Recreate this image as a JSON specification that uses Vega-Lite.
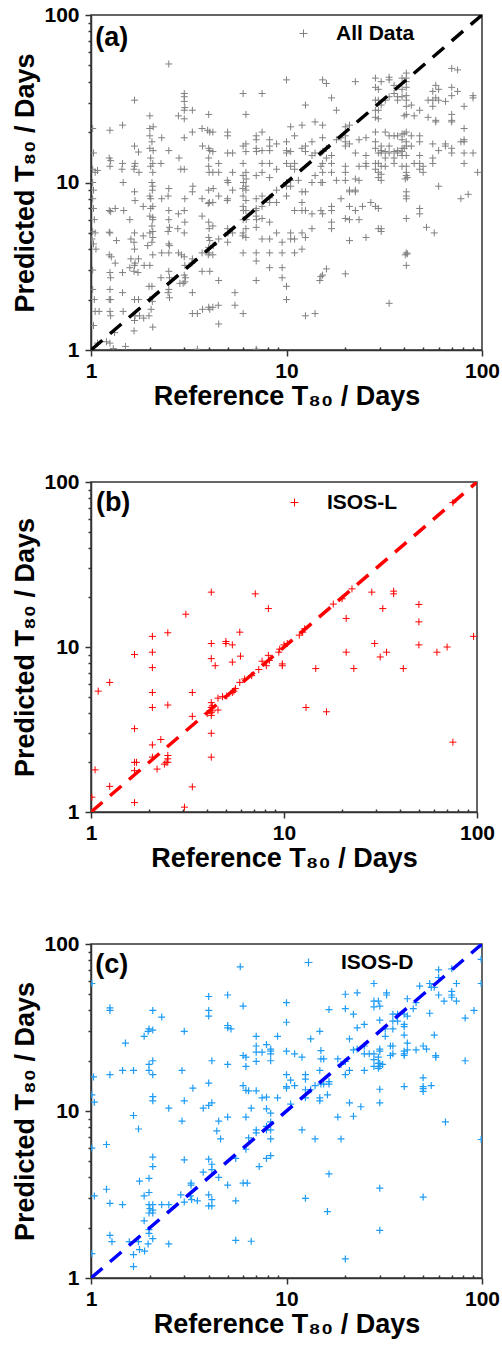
{
  "$schema": "https://vega.github.io/schema/vega-lite/v6.json",
  "background": "white",
  "padding": {"left": 11, "top": 3, "right": 5, "bottom": 5},
  "spacing": 60,
  "config": {
    "font": "Liberation Sans",
    "view": {"stroke": "#333333", "strokeWidth": 1.5},
    "axis": {
      "grid": false,
      "labelFont": "Liberation Sans",
      "labelFontSize": 21,
      "labelFontWeight": "bold",
      "labelColor": "black",
      "labelOverlap": false,
      "labelFlush": false,
      "titleFont": "Liberation Sans",
      "titleFontSize": 27,
      "titleFontWeight": "bold",
      "titleColor": "black",
      "domainColor": "#333333",
      "domainWidth": 1.5,
      "tickColor": "#333333",
      "tickWidth": 1.5
    },
    "legend": {"labelFont": "Liberation Sans"}
  },
  "resolve": {"scale": {"color": "independent"}, "legend": {"color": "independent"}},
  "datasets": {
    "diag": [{"x": 1, "y": 1}, {"x": 100, "y": 100}],
    "a": [
      {"x":1.02,"y":21},{"x":1.03,"y":15},{"x":1.05,"y":11.5},{"x":1.02,"y":10},{"x":1.03,"y":9},{"x":1.02,"y":8},{"x":1.03,"y":7},{"x":1.04,"y":6},{"x":1.05,"y":5},{"x":1.02,"y":5.1},{"x":1.03,"y":4.3},{"x":1.06,"y":4},{"x":1.02,"y":3},{"x":1.04,"y":2},{"x":1.05,"y":1.7},{"x":1.1,"y":1.7},{"x":1.03,"y":1.4},{"x":1.08,"y":1.1},{"x":1.02,"y":12},{"x":1.08,"y":11.8},{"x":1.01,"y":4.6},{"x":1.02,"y":2.3},
      {"x":1.25,"y":20.5},{"x":1.24,"y":14},{"x":1.26,"y":13.5},{"x":1.25,"y":12.5},{"x":1.24,"y":6.8},{"x":1.26,"y":6.7},{"x":1.25,"y":5},{"x":1.24,"y":5.05},{"x":1.24,"y":3.7},{"x":1.27,"y":3.6},{"x":1.25,"y":2.9},{"x":1.26,"y":2.7},{"x":1.25,"y":2.3},{"x":1.24,"y":2},{"x":1.26,"y":2},{"x":1.25,"y":1.7},{"x":1.26,"y":1.6},{"x":1.25,"y":1.1},{"x":1.3,"y":1.02},{"x":1.2,"y":1.12},
      {"x":1.33,"y":7},{"x":1.35,"y":4.5},{"x":1.33,"y":3.3},{"x":1.32,"y":1.27},
      {"x":1.45,"y":22},{"x":1.45,"y":13},{"x":1.44,"y":12},{"x":1.46,"y":10},{"x":1.47,"y":6.8},{"x":1.45,"y":2.9},{"x":1.45,"y":2.2},{"x":1.46,"y":1.7},{"x":1.5,"y":1.05},
      {"x":1.58,"y":6},{"x":1.6,"y":4.6},{"x":1.6,"y":3.5},{"x":1.58,"y":3.1},
      {"x":1.67,"y":31},{"x":1.67,"y":16.5},{"x":1.68,"y":13},{"x":1.67,"y":12.5},{"x":1.66,"y":12},{"x":1.67,"y":8.8},{"x":1.68,"y":7.8},{"x":1.67,"y":5},{"x":1.66,"y":4.4},{"x":1.67,"y":4},{"x":1.68,"y":3.3},{"x":1.67,"y":3.2},{"x":1.66,"y":2.95},{"x":1.67,"y":2},{"x":1.68,"y":1.6},{"x":1.67,"y":1.5},{"x":1.66,"y":1.3},
      {"x":1.75,"y":15.2},{"x":1.76,"y":11.5},{"x":1.75,"y":3.5},{"x":1.74,"y":2.9},{"x":1.75,"y":2},{"x":1.77,"y":1.6},
      {"x":1.85,"y":7.2},{"x":1.85,"y":4.8},{"x":1.87,"y":3.2},{"x":1.86,"y":1.55},
      {"x":2,"y":25},{"x":2,"y":21},{"x":2.08,"y":21.5},{"x":2,"y":19},{"x":2.05,"y":17.5},{"x":2,"y":16},{"x":2.08,"y":15.5},{"x":2.02,"y":14},{"x":2.07,"y":13},{"x":2.02,"y":12.5},{"x":2.07,"y":11.5},{"x":2.05,"y":10},{"x":2.07,"y":9.5},{"x":2.06,"y":9},{"x":2,"y":8.3},{"x":2.02,"y":8},{"x":2.07,"y":7.2},{"x":2,"y":6.3},{"x":2.07,"y":6.2},{"x":2.05,"y":5.5},{"x":2,"y":5},{"x":2.07,"y":4.7},{"x":2.05,"y":4.4},{"x":2.07,"y":3.7},{"x":2,"y":3.2},{"x":2.05,"y":2.4},{"x":1.98,"y":2.4},{"x":2,"y":2},{"x":2.06,"y":1.95},{"x":2.03,"y":1.75},{"x":1.98,"y":1.6},{"x":2.07,"y":1.37},{"x":2.07,"y":6},{"x":2.02,"y":7},{"x":2.07,"y":5.1},{"x":1.95,"y":4.2},
      {"x":2.3,"y":18.5},{"x":2.28,"y":13},{"x":2.3,"y":8},{"x":2.3,"y":3.8},{"x":2.28,"y":2.7},
      {"x":2.5,"y":51},{"x":2.5,"y":15.5},{"x":2.5,"y":9.2},{"x":2.48,"y":8.3},{"x":2.5,"y":6.8},{"x":2.5,"y":6},{"x":2.52,"y":5.4},{"x":2.48,"y":5.1},{"x":2.5,"y":4.3},{"x":2.52,"y":4.2},{"x":2.5,"y":3.8},{"x":2.5,"y":2.95},{"x":2.52,"y":2.7},{"x":2.5,"y":2.3},{"x":2.48,"y":2.2},{"x":2.52,"y":2.05},
      {"x":2.8,"y":25},{"x":2.82,"y":14},{"x":2.8,"y":6.5},{"x":2.78,"y":5.3},{"x":2.8,"y":3.8},{"x":2.85,"y":2.5},
      {"x":3,"y":34},{"x":3,"y":32.5},{"x":3,"y":30.5},{"x":3.02,"y":28},{"x":3,"y":27},{"x":3,"y":24},{"x":3,"y":18.5},{"x":3,"y":12},{"x":3.02,"y":8},{"x":3,"y":6.8},{"x":3.02,"y":5.8},{"x":3,"y":5},{"x":3,"y":3.6},{"x":3.02,"y":3.2},{"x":3,"y":2.8},{"x":3.04,"y":2.7},{"x":2.96,"y":2.5},{"x":3.02,"y":2.55},{"x":2.88,"y":12},{"x":2.9,"y":3.7},
      {"x":3.3,"y":27},{"x":3.3,"y":20},{"x":3.32,"y":9.5},{"x":3.3,"y":8.8},{"x":3.3,"y":3.5},{"x":3.28,"y":3.3},{"x":3.3,"y":2.2},{"x":3.3,"y":1.65},
      {"x":3.5,"y":1.01},{"x":3.5,"y":1.65},
      {"x":3.7,"y":21},{"x":3.72,"y":16.5},{"x":3.7,"y":8},{"x":3.7,"y":6.3},{"x":3.7,"y":3.8},{"x":3.7,"y":2.95},{"x":3.72,"y":1.75},
      {"x":4,"y":25.5},{"x":3.95,"y":20.5},{"x":4.05,"y":20},{"x":4,"y":16},{"x":4.05,"y":15.5},{"x":4,"y":14},{"x":4,"y":12.5},{"x":4.02,"y":11.5},{"x":4,"y":9},{"x":4.03,"y":7.6},{"x":3.98,"y":7.5},{"x":4,"y":5.8},{"x":4.02,"y":5.3},{"x":4,"y":4.7},{"x":4.05,"y":4.5},{"x":4,"y":4.1},{"x":4.02,"y":3.8},{"x":3.98,"y":3.7},{"x":4.05,"y":2.95},{"x":4,"y":1.8},{"x":4.05,"y":1.75},
      {"x":4.2,"y":20},{"x":4.2,"y":15.3},{"x":4.2,"y":11.5},{"x":4.22,"y":9.2},{"x":4.2,"y":7.6},{"x":4.2,"y":5.5},{"x":4.22,"y":4.2},{"x":4.2,"y":3.7},{"x":4.2,"y":1.8},
      {"x":4.5,"y":13},{"x":4.5,"y":11.5},{"x":4.5,"y":8.3},{"x":4.5,"y":4.6},{"x":4.5,"y":2.6},{"x":4.48,"y":1.85},{"x":4.5,"y":1.43},
      {"x":5,"y":20},{"x":5,"y":19},{"x":5,"y":15},{"x":4.98,"y":10.3},{"x":5.02,"y":10},{"x":5,"y":8},{"x":4.98,"y":7.8},{"x":5,"y":5.3},{"x":5.02,"y":5},{"x":5,"y":4.4},
      {"x":5.3,"y":15},{"x":5.3,"y":11.5},{"x":5.3,"y":9},{"x":5.3,"y":5},{"x":5.45,"y":2.2},{"x":5.45,"y":1.85},
      {"x":6,"y":34},{"x":6,"y":16.5},{"x":6,"y":13},{"x":6,"y":11},{"x":6.02,"y":10},{"x":5.98,"y":9.2},{"x":6,"y":8.3},{"x":6,"y":7.2},{"x":6.02,"y":6.8},{"x":6,"y":6},{"x":6,"y":5},{"x":5.98,"y":4.8},{"x":6,"y":3.8},{"x":6,"y":1.65},
      {"x":6.2,"y":25.5},{"x":6.2,"y":17},{"x":6.2,"y":15.3},{"x":6.2,"y":11.5},{"x":6.22,"y":10.5},{"x":6.2,"y":9.5},{"x":6.2,"y":9},{"x":6.2,"y":7.8},{"x":6.2,"y":6.8},{"x":6.22,"y":6},{"x":6.2,"y":5.3},{"x":6.2,"y":4.7},
      {"x":7,"y":19},{"x":7,"y":18},{"x":7,"y":16},{"x":7.02,"y":15.3},{"x":7,"y":11},{"x":7,"y":8},{"x":7,"y":7},{"x":6.98,"y":6.8},{"x":7,"y":6.3},{"x":7.02,"y":6},{"x":7,"y":5.4},{"x":7,"y":3.8},{"x":7,"y":3.4},{"x":7,"y":2.6},{"x":7,"y":1.01},
      {"x":7.5,"y":34},{"x":7.5,"y":20},{"x":7.5,"y":15.5},{"x":7.5,"y":13},{"x":7.5,"y":11.5},{"x":7.5,"y":8.3},{"x":7.5,"y":7.2},{"x":7.5,"y":6.1},{"x":7.5,"y":4.6},
      {"x":8.2,"y":18},{"x":8.2,"y":16.5},{"x":8.2,"y":15.5},{"x":8.2,"y":13},{"x":8.2,"y":10.7},{"x":8.2,"y":8.1},{"x":8.2,"y":7.6},{"x":8.2,"y":5.8},{"x":8.2,"y":4.6},{"x":8.2,"y":3.8},{"x":8.2,"y":3.1},
      {"x":8.9,"y":17},{"x":8.9,"y":12},{"x":8.9,"y":9},{"x":8.9,"y":7.6},{"x":8.9,"y":5},
      {"x":9.5,"y":4.4},{"x":9.5,"y":3.8},{"x":9.5,"y":3.1},{"x":9.5,"y":2.7},
      {"x":10,"y":41},{"x":10,"y":17.5},{"x":10,"y":15.5},{"x":10,"y":15},{"x":10,"y":13},{"x":10,"y":10},{"x":10,"y":9.5},{"x":10,"y":8.3},{"x":10,"y":2.4},{"x":10,"y":2},
      {"x":10.5,"y":21.5},{"x":10.5,"y":15.3},{"x":10.5,"y":12.5},{"x":10.5,"y":10.3},{"x":10.5,"y":9.5},{"x":10.5,"y":5},{"x":10.5,"y":4.6},
      {"x":11,"y":19},{"x":11,"y":13},{"x":11,"y":12},{"x":11,"y":6.8},{"x":11,"y":4.6},{"x":11,"y":3.8},{"x":11.5,"y":10.3},
      {"x":12,"y":22},{"x":12,"y":16},{"x":12,"y":8.8},{"x":12,"y":7.6},{"x":12,"y":6.8},{"x":12,"y":5},{"x":12,"y":4},
      {"x":12.5,"y":29},{"x":12.5,"y":16.5},{"x":12.5,"y":15.3},{"x":12.5,"y":8.8},{"x":12.5,"y":6.8},{"x":12.5,"y":4.7},{"x":12.5,"y":1.6},
      {"x":13.5,"y":17.5},{"x":13.5,"y":14.5},{"x":13.5,"y":10},{"x":13.5,"y":6.5},{"x":13.5,"y":5.3},
      {"x":14,"y":23},{"x":14,"y":15},{"x":14,"y":11},{"x":14,"y":1.65},
      {"x":15,"y":15},{"x":15,"y":12.5},{"x":15,"y":10},{"x":15,"y":6.8},{"x":15,"y":2.75},{"x":14.8,"y":2.6},
      {"x":15.3,"y":41},{"x":15.3,"y":22},{"x":15.3,"y":18.5},{"x":15.3,"y":15.3},{"x":15.3,"y":13},{"x":15.3,"y":11.5},{"x":15.3,"y":10},{"x":15.3,"y":6.5},{"x":15.3,"y":2.8},
      {"x":16,"y":39},{"x":16,"y":16},{"x":16,"y":14},{"x":16,"y":3.05},
      {"x":17,"y":32},{"x":17,"y":14.5},{"x":17,"y":13},{"x":17,"y":11.5},{"x":17,"y":7.2},{"x":17,"y":6.8},{"x":17,"y":5.8},{"x":17,"y":5.3},
      {"x":18,"y":27},{"x":18,"y":18},{"x":18,"y":10.3},{"x":19,"y":18.5},{"x":19,"y":8},
      {"x":20,"y":21.5},{"x":20,"y":19},{"x":20,"y":17.5},{"x":20,"y":16.5},{"x":20,"y":12.5},{"x":20,"y":11.5},{"x":20,"y":10.3},{"x":20,"y":6.1},{"x":20,"y":2.85},
      {"x":21,"y":22},{"x":21,"y":17},{"x":21,"y":9},{"x":21,"y":8.8},{"x":21,"y":7.2},{"x":21,"y":6},{"x":21,"y":4.5},
      {"x":22.5,"y":40},{"x":22.5,"y":15},{"x":22.5,"y":10.5},{"x":22.5,"y":9},{"x":22.5,"y":8.8},{"x":22.5,"y":6.8},
      {"x":23.5,"y":18},{"x":23.5,"y":12.5},{"x":23.5,"y":10.3},{"x":23.5,"y":6},{"x":24.5,"y":7.2},
      {"x":25.5,"y":18.5},{"x":25.5,"y":14.5},{"x":25.5,"y":13},{"x":25.5,"y":12.5},{"x":25.5,"y":4.7},{"x":27,"y":7.6},
      {"x":28.5,"y":42},{"x":28.5,"y":37},{"x":28.5,"y":31},{"x":28.5,"y":27},{"x":28.5,"y":24.5},{"x":28.5,"y":20},{"x":28.5,"y":17.5},{"x":28.5,"y":16},{"x":28.5,"y":13},{"x":28.5,"y":12},{"x":28.5,"y":7.2},
      {"x":29.5,"y":36},{"x":29.5,"y":31},{"x":29.5,"y":27},{"x":29.5,"y":24},{"x":29.5,"y":15},{"x":29.5,"y":13},{"x":29.5,"y":11.5},{"x":29.5,"y":10.7},{"x":29.5,"y":7},{"x":29.5,"y":5.3},
      {"x":30.5,"y":40},{"x":30.5,"y":29},{"x":30.5,"y":16.5},{"x":30.5,"y":15.5},{"x":30.5,"y":15},{"x":30.5,"y":12.5},{"x":30.5,"y":11.2},{"x":30.5,"y":10.3},{"x":30.5,"y":5.3},{"x":30.5,"y":5.1},
      {"x":32,"y":31},{"x":32,"y":20},{"x":32,"y":15.3},{"x":32,"y":14},{"x":32,"y":12.5},
      {"x":33.5,"y":42.5},{"x":33.5,"y":41},{"x":33.5,"y":32.5},{"x":33.5,"y":19},{"x":33.5,"y":16.5},{"x":33.5,"y":15},{"x":33.5,"y":1.9},
      {"x":35.5,"y":38},{"x":35.5,"y":34},{"x":35.5,"y":19},{"x":35.5,"y":15.3},{"x":35.5,"y":14},{"x":35.5,"y":13},
      {"x":37,"y":32.5},{"x":37,"y":31},{"x":37,"y":19},{"x":37,"y":15.5},{"x":37,"y":15},
      {"x":39,"y":42},{"x":39,"y":36},{"x":39,"y":32.5},{"x":39,"y":19.5},{"x":39,"y":18},{"x":39,"y":16},{"x":39,"y":15.3},{"x":39,"y":14.5},{"x":39,"y":12.5},
      {"x":41,"y":45},{"x":41,"y":42},{"x":41,"y":40},{"x":41,"y":37},{"x":41,"y":33},{"x":41,"y":31},{"x":41,"y":28.5},{"x":41,"y":25.5},{"x":40,"y":25},{"x":41,"y":20},{"x":40,"y":19.5},{"x":41,"y":17.5},{"x":41,"y":16.5},{"x":40,"y":16},{"x":41,"y":14.5},{"x":41,"y":12.5},{"x":41,"y":11.5},{"x":41,"y":11},{"x":41.5,"y":10.7},{"x":40.5,"y":10.5},{"x":41,"y":8.8},{"x":41,"y":8.3},{"x":41,"y":8},{"x":41,"y":6.1},{"x":41,"y":3.8},{"x":41.5,"y":3.75},{"x":40.5,"y":3.7},{"x":41,"y":3.2},
      {"x":43.5,"y":29},{"x":43.5,"y":19},{"x":43.5,"y":16.5},{"x":45,"y":25},{"x":45,"y":13},
      {"x":48,"y":27},{"x":48,"y":19},{"x":48,"y":17.5},{"x":48,"y":14.5},{"x":48,"y":13},{"x":48,"y":12},{"x":48,"y":7},{"x":48,"y":6.5},
      {"x":50,"y":12.5},{"x":50,"y":11.5},{"x":52,"y":5.4},{"x":53,"y":31},{"x":53,"y":24.5},
      {"x":56,"y":35},{"x":56,"y":31},{"x":56,"y":28.5},{"x":56,"y":17},{"x":56,"y":14},{"x":56,"y":13},
      {"x":58,"y":38},{"x":58,"y":32},{"x":58,"y":23.5},{"x":58,"y":23},{"x":57,"y":5},
      {"x":60,"y":36},{"x":60,"y":31},{"x":60,"y":15.5},{"x":60,"y":9.5},
      {"x":65,"y":30.5},{"x":65,"y":17},{"x":65,"y":16.5},
      {"x":70,"y":48},{"x":70,"y":37},{"x":70,"y":33},{"x":70,"y":25.5},{"x":70,"y":23.5},{"x":70,"y":23},{"x":70,"y":16},{"x":70,"y":15},
      {"x":75,"y":47},{"x":75,"y":35},{"x":78,"y":17.5},{"x":78,"y":8},
      {"x":81,"y":28.5},{"x":81,"y":21},{"x":81,"y":18},{"x":81,"y":17.5},{"x":81,"y":15},{"x":81,"y":13},
      {"x":85,"y":8.5},{"x":90,"y":33},{"x":90,"y":32},{"x":90,"y":15},{"x":95,"y":11.5}
    ],
    "b": [
      {"x":1.01,"y":1.23},{"x":1.05,"y":1.8},{"x":1.09,"y":5.4},{"x":1.25,"y":6.1},{"x":1.25,"y":1.43},{"x":1.68,"y":9},{"x":1.68,"y":3.2},{"x":1.68,"y":2.0},{"x":1.68,"y":1.78},{"x":1.68,"y":1.14},{"x":1.72,"y":2.0},
      {"x":2.08,"y":11.6},{"x":2.08,"y":9.3},{"x":2.08,"y":7.5},{"x":2.08,"y":5.3},{"x":2.08,"y":4.3},{"x":2.08,"y":2.55},{"x":2.08,"y":2.15},{"x":2.2,"y":1.82},{"x":2.3,"y":2.75},{"x":2.4,"y":1.95},{"x":2.45,"y":2.0},
      {"x":2.5,"y":12.2},{"x":2.5,"y":4.45},{"x":2.5,"y":2.2},{"x":2.5,"y":2.1},{"x":2.5,"y":2.0},{"x":3.1,"y":15.8},{"x":3.05,"y":1.07},{"x":3.35,"y":5.3},{"x":3.35,"y":3.8},{"x":3.35,"y":1.42},
      {"x":4.2,"y":21.5},{"x":4.2,"y":10.5},{"x":4.2,"y":8.5},{"x":4.2,"y":4.6},{"x":4.2,"y":4.3},{"x":4.2,"y":4.0},{"x":4.2,"y":3.85},{"x":4.2,"y":3.0},{"x":4.2,"y":2.15},{"x":4.25,"y":4.4},{"x":4.25,"y":4.1},{"x":4.0,"y":3.95},{"x":4.4,"y":7.7},{"x":4.55,"y":4.9},{"x":4.55,"y":4.15},{"x":4.8,"y":5.0},
      {"x":5.0,"y":10.8},{"x":5.0,"y":10.5},{"x":5.05,"y":5.05},{"x":5.4,"y":10.3},{"x":5.4,"y":8.1},{"x":5.4,"y":5.3},{"x":5.5,"y":5.4},{"x":5.6,"y":5.6},{"x":5.9,"y":12.3},{"x":5.95,"y":8.8},{"x":5.9,"y":6.1},{"x":6.25,"y":6.4},{"x":6.8,"y":6.7},{"x":7.1,"y":21},{"x":7.4,"y":7.3},{"x":7.7,"y":8.2},{"x":8.1,"y":7.7},{"x":8.3,"y":17.1},{"x":8.3,"y":8.9},{"x":8.4,"y":8.3},
      {"x":9.4,"y":9.3},{"x":9.5,"y":9.7},{"x":9.8,"y":7.9},{"x":9.8,"y":7.7},{"x":10,"y":10.3},{"x":10.4,"y":10.5},{"x":12,"y":11.8},{"x":12.5,"y":12.3},{"x":12.8,"y":12.9},{"x":13,"y":4.3},{"x":14.6,"y":7.4},{"x":16.6,"y":4.05},{"x":18,"y":18.2},{"x":20,"y":19.6},
      {"x":21,"y":14.9},{"x":21,"y":9.3},{"x":22.5,"y":22.5},{"x":23,"y":7.4},{"x":28.5,"y":21.5},{"x":29.5,"y":10.5},{"x":32.5,"y":17.1},{"x":31.5,"y":8.7},{"x":34,"y":9.3},{"x":37,"y":21.8},{"x":37,"y":21},{"x":41.5,"y":7.4},
      {"x":50,"y":18.1},{"x":50,"y":14.2},{"x":50,"y":10.3},{"x":62,"y":9.3},{"x":70,"y":10},{"x":75,"y":75},{"x":75,"y":2.65},{"x":96,"y":11.6}
    ],
    "c": [
      {"x":1.01,"y":58},{"x":1.03,"y":16},{"x":1.01,"y":12.5},{"x":1.04,"y":11.3},{"x":1.01,"y":6},{"x":1.04,"y":3.1},{"x":1.01,"y":1.4},{"x":1.2,"y":6.3},{"x":1.2,"y":3.4},{"x":1.25,"y":41.5},{"x":1.25,"y":40},{"x":1.25,"y":16.5},{"x":1.25,"y":2.8},{"x":1.25,"y":1.8},{"x":1.28,"y":1.65},
      {"x":1.45,"y":17.5},{"x":1.45,"y":2.75},{"x":1.5,"y":25.5},{"x":1.57,"y":1.65},{"x":1.65,"y":17.5},{"x":1.65,"y":9.4},{"x":1.65,"y":1.38},{"x":1.65,"y":1.17},{"x":1.75,"y":7.8},{"x":1.77,"y":3.8},{"x":1.75,"y":1.65},{"x":1.77,"y":1.48},
      {"x":1.87,"y":28},{"x":1.87,"y":3.1},{"x":1.87,"y":2.2},{"x":1.88,"y":1.45},{"x":1.98,"y":31},{"x":1.96,"y":30},{"x":1.98,"y":19},{"x":1.98,"y":17.5},{"x":1.98,"y":3.95},{"x":1.98,"y":3.25},{"x":1.98,"y":2.75},{"x":2.0,"y":2.6},{"x":1.98,"y":2.45},{"x":1.98,"y":1.95},{"x":1.98,"y":1.85},{"x":1.96,"y":1.6},
      {"x":2.07,"y":40},{"x":2.07,"y":30.5},{"x":2.07,"y":20},{"x":2.07,"y":16.5},{"x":2.07,"y":12.2},{"x":2.07,"y":11.5},{"x":2.07,"y":5.3},{"x":2.07,"y":4.65},{"x":2.07,"y":2.75},{"x":2.07,"y":2.55},{"x":2.07,"y":2.45},{"x":2.07,"y":1.72},
      {"x":2.3,"y":36.5},{"x":2.3,"y":2.75},{"x":2.5,"y":10.4},{"x":2.5,"y":2.75},{"x":2.5,"y":1.6},{"x":2.92,"y":17.5},{"x":2.92,"y":8.7},{"x":2.88,"y":3.15},{"x":3.0,"y":30},{"x":3.0,"y":11.5},{"x":3.0,"y":5.1},{"x":3.0,"y":2.85},
      {"x":3.25,"y":3.7},{"x":3.25,"y":3.6},{"x":3.22,"y":3.1},{"x":3.27,"y":2.95},{"x":3.32,"y":13.7},{"x":3.5,"y":2.9},{"x":3.75,"y":10.4},{"x":3.75,"y":4.3},
      {"x":4.0,"y":48.5},{"x":4.0,"y":40},{"x":4.0,"y":37},{"x":4.0,"y":14.7},{"x":4.0,"y":10.8},{"x":4.0,"y":5.15},{"x":4.0,"y":3.15},{"x":4.0,"y":2.7},{"x":4.15,"y":20},{"x":4.15,"y":11.2},{"x":4.15,"y":4.8},{"x":4.15,"y":4.45},{"x":4.15,"y":2.95},{"x":4.15,"y":2.7},
      {"x":4.4,"y":7.6},{"x":4.5,"y":8.7},{"x":4.5,"y":4.0},{"x":4.6,"y":6.8},{"x":5.0,"y":49.5},{"x":5.0,"y":32.5},{"x":5.0,"y":31.5},{"x":5.0,"y":19},{"x":5.0,"y":9.2},{"x":5.0,"y":3.6},{"x":5.2,"y":31},{"x":5.5,"y":5.2},{"x":5.5,"y":2.9},{"x":5.5,"y":1.68},
      {"x":5.8,"y":73},{"x":6.0,"y":42.5},{"x":6.0,"y":21.5},{"x":6.0,"y":14.2},{"x":6.0,"y":3.7},{"x":6.2,"y":21},{"x":6.2,"y":18.5},{"x":6.2,"y":13.3},{"x":6.2,"y":9.2},{"x":6.2,"y":5.9},{"x":6.3,"y":3.7},{"x":6.4,"y":13.2},{"x":6.4,"y":6.9},{"x":6.6,"y":10.4},{"x":6.6,"y":1.66},
      {"x":7.0,"y":28},{"x":7.0,"y":24.5},{"x":7.0,"y":22.5},{"x":7.0,"y":19.8},{"x":7.0,"y":13.2},{"x":7.0,"y":7.7},{"x":7.0,"y":7.4},{"x":7.25,"y":4.65},{"x":7.5,"y":22.5},{"x":7.5,"y":12},
      {"x":7.9,"y":25},{"x":7.9,"y":12.1},{"x":7.9,"y":10.3},{"x":7.9,"y":8.1},{"x":7.9,"y":7.7},{"x":7.9,"y":5.2},{"x":8.3,"y":23.5},{"x":8.3,"y":22.8},{"x":8.3,"y":22},{"x":8.3,"y":20},{"x":8.3,"y":9.7},{"x":8.3,"y":8.6},{"x":8.3,"y":7.7},{"x":8.3,"y":6.8},{"x":8.3,"y":5.4},
      {"x":9.0,"y":28},{"x":9.0,"y":12},{"x":10,"y":44.5},{"x":10,"y":34},{"x":10,"y":22.8},{"x":10,"y":16.5},{"x":10,"y":14},{"x":10,"y":13.7},{"x":10.5,"y":15.3},{"x":10.5,"y":11},{"x":11,"y":22},{"x":11,"y":14.2},
      {"x":12,"y":21},{"x":12,"y":7.7},{"x":12.5,"y":16.5},{"x":12.5,"y":15.5},{"x":12.5,"y":13.4},{"x":12.5,"y":12},{"x":12.5,"y":3.0},{"x":13.3,"y":27},{"x":13.3,"y":13.4},{"x":14,"y":14.2},{"x":14,"y":6.8},
      {"x":14.8,"y":30},{"x":14.8,"y":17.5},{"x":14.8,"y":12},{"x":14.8,"y":11.5},{"x":15,"y":23},{"x":15,"y":20.5},{"x":15,"y":14.5},{"x":15.5,"y":20.5},{"x":15.5,"y":14.5},{"x":16.2,"y":12.5},{"x":16.2,"y":2.5},{"x":16.5,"y":40.5},{"x":16.5,"y":15},{"x":16.5,"y":14.5},{"x":16.5,"y":4.2},
      {"x":18.3,"y":20.5},{"x":18.3,"y":9.2},{"x":19,"y":19},{"x":19,"y":6.8},{"x":20,"y":50},{"x":20,"y":41},{"x":20,"y":19.8},{"x":20,"y":16.5},{"x":20,"y":1.3},{"x":21,"y":27},{"x":21,"y":17.5},{"x":21,"y":11.2},
      {"x":22,"y":38},{"x":22,"y":23.2},{"x":22,"y":9.3},{"x":23,"y":51},{"x":23,"y":31.5},{"x":23,"y":23.5},{"x":24,"y":10.6},{"x":25,"y":33},{"x":25,"y":24.5},{"x":25,"y":22},{"x":25,"y":17.5},{"x":26.5,"y":22},
      {"x":28,"y":58},{"x":28,"y":45.5},{"x":28,"y":42},{"x":28,"y":22},{"x":28,"y":20.3},{"x":28,"y":18.5},{"x":29.5,"y":45.5},{"x":29.5,"y":21},{"x":29.5,"y":19.3},{"x":29.5,"y":18},
      {"x":30,"y":42.5},{"x":30,"y":35},{"x":30,"y":23.5},{"x":30,"y":22.8},{"x":30,"y":19.3},{"x":30,"y":18.5},{"x":30,"y":13.5},{"x":30,"y":11.2},{"x":30,"y":3.45},{"x":30,"y":1.93},{"x":31,"y":19},
      {"x":32,"y":31},{"x":32,"y":28},{"x":32.5,"y":51},{"x":32.5,"y":49.5},{"x":34,"y":24.5},{"x":34,"y":21.5},{"x":35,"y":38},{"x":35,"y":34.5},{"x":35,"y":31},{"x":35,"y":24.5},{"x":35,"y":22},{"x":37,"y":38},{"x":37,"y":34.5},
      {"x":40,"y":38},{"x":40,"y":33},{"x":40,"y":32},{"x":40,"y":28.5},{"x":40,"y":22.8},{"x":40,"y":22},{"x":40,"y":21.5},{"x":40,"y":14},{"x":41.5,"y":47},{"x":41.5,"y":37},{"x":41.5,"y":25.5},{"x":41.5,"y":23.2},
      {"x":44.5,"y":41},{"x":46,"y":44.5},{"x":46,"y":23.2},{"x":48,"y":56},{"x":50,"y":15.8},{"x":50,"y":14},{"x":50,"y":13.6},{"x":50,"y":13.1},{"x":50,"y":24.5},{"x":50,"y":3.05},{"x":52,"y":23.5},
      {"x":54,"y":58},{"x":54,"y":38.5},{"x":55,"y":55},{"x":55,"y":14.2},{"x":57,"y":55},{"x":57,"y":28.5},{"x":58,"y":21.5},{"x":58,"y":21},{"x":60,"y":70},{"x":60,"y":63},{"x":60,"y":49.5},{"x":64,"y":45.5},{"x":65,"y":8.6},
      {"x":70,"y":71},{"x":70,"y":52},{"x":70,"y":49.5},{"x":70,"y":48},{"x":74,"y":58},{"x":74,"y":45.5},{"x":82,"y":36},{"x":82,"y":20},{"x":91,"y":40},{"x":99,"y":99},{"x":99,"y":81},{"x":99,"y":58},{"x":99,"y":6.75}
    ]
  },
  "vconcat": [
    {
      "width": 391, "height": 335,
      "layer": [
        {
          "data": {"name": "a"},
          "mark": {"type": "point", "shape": "M-1,0L1,0M0,-1L0,1", "filled": false, "size": 49, "strokeWidth": 1, "opacity": 1, "clip": true},
          "encoding": {
            "x": {"field": "x", "type": "quantitative", "scale": {"type": "log", "domain": [1, 100], "nice": false},
              "axis": {"values": [1,2,3,4,5,6,7,8,9,10,20,30,40,50,60,70,80,90,100], "format": "d", "labelExpr": "datum.value==1||datum.value==10||datum.value==100 ? datum.label : ''", "tickSize": {"condition": {"test": "datum.value==1||datum.value==10||datum.value==100", "value": 6}, "value": -3}, "labelPadding": 4, "titlePadding": 2, "title": "Reference T₈₀ / Days"}},
            "y": {"field": "y", "type": "quantitative", "scale": {"type": "log", "domain": [1, 100], "nice": false},
              "axis": {"values": [1,2,3,4,5,6,7,8,9,10,20,30,40,50,60,70,80,90,100], "format": "d", "labelExpr": "datum.value==1||datum.value==10||datum.value==100 ? datum.label : ''", "tickSize": {"condition": {"test": "datum.value==1||datum.value==10||datum.value==100", "value": 6}, "value": 3}, "labelPadding": 6, "titlePadding": 4, "title": "Predicted T₈₀ / Days"}},
            "color": {"datum": "All Data", "type": "nominal", "scale": {"range": ["#808080"]},
              "legend": {"orient": "none", "legendX": 202, "legendY": 8, "title": null, "labelFontSize": 21, "labelFontWeight": "bold", "labelColor": "black", "symbolType": "M-1,0L1,0M0,-1L0,1", "symbolSize": 64, "symbolStrokeWidth": 1, "labelOffset": 22}}
          }
        },
        {
          "data": {"name": "diag"},
          "mark": {"type": "line", "color": "black", "strokeWidth": 3.5, "strokeDash": [15, 10], "clip": true},
          "encoding": {"x": {"field": "x", "type": "quantitative"}, "y": {"field": "y", "type": "quantitative"}}
        },
        {
          "data": {"values": [{"x": 1.05, "y": 65, "label": "(a)"}]},
          "mark": {"type": "text", "fontSize": 27, "fontWeight": "bold", "align": "left", "baseline": "alphabetic", "color": "black"},
          "encoding": {"x": {"field": "x", "type": "quantitative"}, "y": {"field": "y", "type": "quantitative"}, "text": {"field": "label"}}
        }
      ]
    },
    {
      "width": 386, "height": 330,
      "layer": [
        {
          "data": {"name": "b"},
          "mark": {"type": "point", "shape": "M-1,0L1,0M0,-1L0,1", "filled": false, "size": 49, "strokeWidth": 1, "opacity": 1, "clip": true},
          "encoding": {
            "x": {"field": "x", "type": "quantitative", "scale": {"type": "log", "domain": [1, 100], "nice": false},
              "axis": {"values": [1,2,3,4,5,6,7,8,9,10,20,30,40,50,60,70,80,90,100], "format": "d", "labelExpr": "datum.value==1||datum.value==10||datum.value==100 ? datum.label : ''", "tickSize": {"condition": {"test": "datum.value==1||datum.value==10||datum.value==100", "value": 6}, "value": -3}, "labelPadding": 4, "titlePadding": 2, "title": "Reference T₈₀ / Days"}},
            "y": {"field": "y", "type": "quantitative", "scale": {"type": "log", "domain": [1, 100], "nice": false},
              "axis": {"values": [1,2,3,4,5,6,7,8,9,10,20,30,40,50,60,70,80,90,100], "format": "d", "labelExpr": "datum.value==1||datum.value==10||datum.value==100 ? datum.label : ''", "tickSize": {"condition": {"test": "datum.value==1||datum.value==10||datum.value==100", "value": 6}, "value": 3}, "labelPadding": 6, "titlePadding": 4, "title": "Predicted T₈₀ / Days"}},
            "color": {"datum": "ISOS-L", "type": "nominal", "scale": {"range": ["#ff0000"]},
              "legend": {"orient": "none", "legendX": 193, "legendY": 10, "title": null, "labelFontSize": 21, "labelFontWeight": "bold", "labelColor": "black", "symbolType": "M-1,0L1,0M0,-1L0,1", "symbolSize": 64, "symbolStrokeWidth": 1, "labelOffset": 22}}
          }
        },
        {
          "data": {"name": "diag"},
          "mark": {"type": "line", "color": "#ff0000", "strokeWidth": 3.5, "strokeDash": [15, 10], "clip": true},
          "encoding": {"x": {"field": "x", "type": "quantitative"}, "y": {"field": "y", "type": "quantitative"}}
        },
        {
          "data": {"values": [{"x": 1.06, "y": 67, "label": "(b)"}]},
          "mark": {"type": "text", "fontSize": 27, "fontWeight": "bold", "align": "left", "baseline": "alphabetic", "color": "black"},
          "encoding": {"x": {"field": "x", "type": "quantitative"}, "y": {"field": "y", "type": "quantitative"}, "text": {"field": "label"}}
        }
      ]
    },
    {
      "width": 391, "height": 334,
      "layer": [
        {
          "data": {"name": "c"},
          "mark": {"type": "point", "shape": "M-1,0L1,0M0,-1L0,1", "filled": false, "size": 49, "strokeWidth": 1.2, "opacity": 1, "clip": true},
          "encoding": {
            "x": {"field": "x", "type": "quantitative", "scale": {"type": "log", "domain": [1, 100], "nice": false},
              "axis": {"values": [1,2,3,4,5,6,7,8,9,10,20,30,40,50,60,70,80,90,100], "format": "d", "labelExpr": "datum.value==1||datum.value==10||datum.value==100 ? datum.label : ''", "tickSize": {"condition": {"test": "datum.value==1||datum.value==10||datum.value==100", "value": 6}, "value": -3}, "labelPadding": 4, "titlePadding": 2, "title": "Reference T₈₀ / Days"}},
            "y": {"field": "y", "type": "quantitative", "scale": {"type": "log", "domain": [1, 100], "nice": false},
              "axis": {"values": [1,2,3,4,5,6,7,8,9,10,20,30,40,50,60,70,80,90,100], "format": "d", "labelExpr": "datum.value==1||datum.value==10||datum.value==100 ? datum.label : ''", "tickSize": {"condition": {"test": "datum.value==1||datum.value==10||datum.value==100", "value": 6}, "value": 3}, "labelPadding": 6, "titlePadding": 4, "title": "Predicted T₈₀ / Days"}},
            "color": {"datum": "ISOS-D", "type": "nominal", "scale": {"range": ["#1e9cf5"]},
              "legend": {"orient": "none", "legendX": 207, "legendY": 8, "title": null, "labelFontSize": 21, "labelFontWeight": "bold", "labelColor": "black", "symbolType": "M-1,0L1,0M0,-1L0,1", "symbolSize": 64, "symbolStrokeWidth": 1.2, "labelOffset": 22}}
          }
        },
        {
          "data": {"name": "diag"},
          "mark": {"type": "line", "color": "#0000ff", "strokeWidth": 3.5, "strokeDash": [15, 10], "clip": true},
          "encoding": {"x": {"field": "x", "type": "quantitative"}, "y": {"field": "y", "type": "quantitative"}}
        },
        {
          "data": {"values": [{"x": 1.05, "y": 67, "label": "(c)"}]},
          "mark": {"type": "text", "fontSize": 27, "fontWeight": "bold", "align": "left", "baseline": "alphabetic", "color": "black"},
          "encoding": {"x": {"field": "x", "type": "quantitative"}, "y": {"field": "y", "type": "quantitative"}, "text": {"field": "label"}}
        }
      ]
    }
  ]
}
